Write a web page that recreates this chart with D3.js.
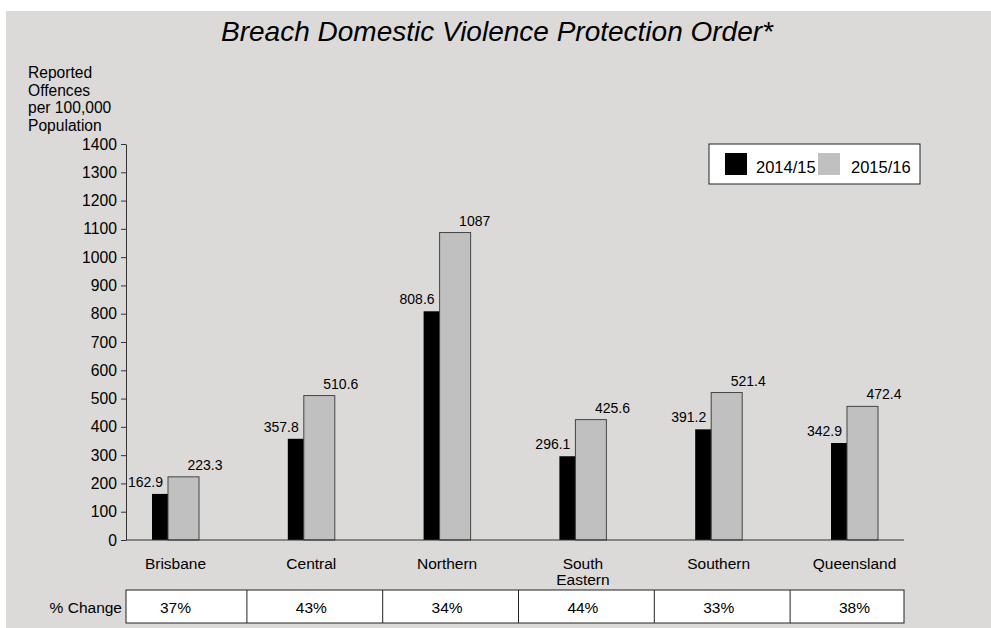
<!DOCTYPE html>
<html>
<head>
<meta charset="utf-8">
<script src="https://cdn.jsdelivr.net/npm/d3@7"></script>
<style>
  html, body { margin: 0; padding: 0; background: #ffffff; }
  svg { display: block; font-family: "Liberation Sans", Arial, sans-serif; }
</style>
</head>
<body>
<svg id="chart" width="991" height="628"></svg>
<script>
const categories = ["Brisbane", "Central", "Northern", "South\nEastern", "Southern", "Queensland"];
const series2014 = [162.9, 357.8, 808.6, 296.1, 391.2, 342.9];
const series2015 = [223.3, 510.6, 1087, 425.6, 521.4, 472.4];
const series2014Labels = ["162.9", "357.8", "808.6", "296.1", "391.2", "342.9"];
const series2015Labels = ["223.3", "510.6", "1087", "425.6", "521.4", "472.4"];
const pctChange = ["37%", "43%", "34%", "44%", "33%", "38%"];
const seriesNames = ["2014/15", "2015/16"];
const yTicks = d3.range(0, 1401, 100);

const svg = d3.select("#chart");
const W = 991, H = 628;

// background
svg.append("rect").attr("x", 6).attr("y", 11).attr("width", W - 6).attr("height", H - 11).attr("fill", "#dbdad8");

// title
svg.append("text").attr("x", 497).attr("y", 41).attr("text-anchor", "middle")
  .attr("font-size", 28).attr("font-style", "italic").attr("fill", "#000")
  .text("Breach Domestic Violence Protection Order*");

// y-axis title
const yTitle = ["Reported", "Offences", "per 100,000", "Population"];
svg.append("text").attr("x", 28).attr("font-size", 15.6).attr("fill", "#000")
  .selectAll("tspan").data(yTitle).join("tspan")
  .attr("x", 28).attr("y", (d, i) => 78 + i * 17.5).text(d => d);

const axisLeft = 126, axisRight = 904;
const y = d3.scaleLinear().domain([0, 1400]).range([540, 144]);
const x = d3.scaleBand().domain(categories).range([107.6, 922.4]).padding(0);
const bw = x.bandwidth();
const cx = c => x(c) + bw / 2;
const barW = 31;

// y axis
const yAxis = svg.append("g").attr("transform", `translate(${axisLeft},0)`)
  .call(d3.axisLeft(y).tickValues(yTicks).tickFormat(d3.format("d")).tickSize(5).tickSizeOuter(0).tickPadding(4));
yAxis.select(".domain").attr("stroke", "#333");
yAxis.selectAll(".tick line").attr("stroke", "#333");
yAxis.selectAll(".tick text").attr("font-size", 15.7).attr("font-family", "Liberation Sans, Arial, sans-serif").attr("fill", "#000");

// bars
const data = categories.map((c, i) => ({ c, a: series2014[i], b: series2015[i], la: series2014Labels[i], lb: series2015Labels[i], p: pctChange[i] }));

svg.append("g").selectAll("rect").data(data).join("rect")
  .attr("x", d => cx(d.c) - 23.5).attr("width", barW)
  .attr("y", d => y(d.a)).attr("height", d => y(0) - y(d.a))
  .attr("fill", "#000");

svg.append("g").selectAll("rect").data(data).join("rect")
  .attr("x", d => cx(d.c) - 7.5).attr("width", barW)
  .attr("y", d => y(d.b)).attr("height", d => y(0) - y(d.b))
  .attr("fill", "#c0c0c0").attr("stroke", "#444").attr("stroke-width", 1);

// x axis line
svg.append("line").attr("x1", axisLeft).attr("x2", axisRight).attr("y1", y(0)).attr("y2", y(0))
  .attr("stroke", "#333").attr("stroke-width", 1);

// value labels
svg.append("g").selectAll("text").data(data).join("text")
  .attr("x", d => cx(d.c) - 12.5).attr("y", d => y(d.a) - 7)
  .attr("text-anchor", "end").attr("font-size", 14).attr("fill", "#000")
  .text(d => d.la);
svg.append("g").selectAll("text").data(data).join("text")
  .attr("x", d => cx(d.c) + 12).attr("y", d => y(d.b) - 7)
  .attr("text-anchor", "start").attr("font-size", 14).attr("fill", "#000")
  .text(d => d.lb);

// category labels
svg.append("g").selectAll("text").data(data).join("text")
  .attr("text-anchor", "middle").attr("font-size", 15.5).attr("fill", "#000")
  .each(function(d) {
    const lines = d.c.split("\n");
    d3.select(this).selectAll("tspan").data(lines).join("tspan")
      .attr("x", cx(d.c)).attr("y", (l, i) => 569 + i * 15.5).text(l => l);
  });

// data table
const tTop = 590, tBot = 623;
const bounds = [axisLeft].concat(categories.slice(0, -1).map(c => x(c) + bw + 3.5)).concat([axisRight]);
const tg = svg.append("g");
tg.append("rect").attr("x", axisLeft).attr("y", tTop).attr("width", axisRight - axisLeft).attr("height", tBot - tTop)
  .attr("fill", "#fff").attr("stroke", "#222").attr("stroke-width", 1);
tg.selectAll("line.sep").data(bounds.slice(1, -1)).join("line").attr("class", "sep")
  .attr("x1", d => d).attr("x2", d => d).attr("y1", tTop).attr("y2", tBot)
  .attr("stroke", "#222");
tg.selectAll("text.pct").data(data).join("text").attr("class", "pct")
  .attr("x", d => cx(d.c)).attr("y", 613).attr("text-anchor", "middle")
  .attr("font-size", 15.5).attr("fill", "#000").text(d => d.p);
svg.append("text").attr("x", 122).attr("y", 613).attr("text-anchor", "end")
  .attr("font-size", 15.5).attr("fill", "#000").text("% Change");

// legend
const lg = svg.append("g");
lg.append("rect").attr("x", 709).attr("y", 144).attr("width", 211).attr("height", 40)
  .attr("fill", "#fff").attr("stroke", "#222").attr("stroke-width", 1);
lg.append("rect").attr("x", 725).attr("y", 153).attr("width", 22).attr("height", 22).attr("fill", "#000");
lg.append("text").attr("x", 756).attr("y", 173).attr("font-size", 16.5).attr("fill", "#000").text(seriesNames[0]);
lg.append("rect").attr("x", 818).attr("y", 153).attr("width", 22).attr("height", 22).attr("fill", "#c0c0c0");
lg.append("text").attr("x", 851).attr("y", 173).attr("font-size", 16.5).attr("fill", "#000").text(seriesNames[1]);
</script>
</body>
</html>
